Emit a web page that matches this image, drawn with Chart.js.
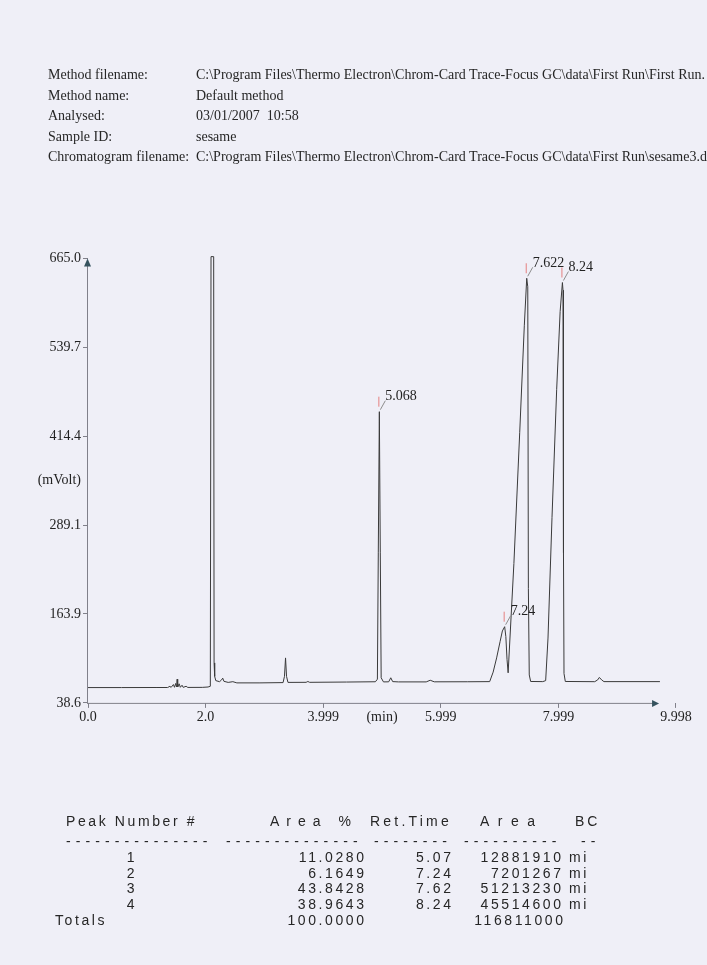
<!DOCTYPE html>
<html><head><meta charset="utf-8">
<script src="https://cdn.jsdelivr.net/npm/chart.js@4.4.1/dist/chart.umd.min.js"></script>
<style>
html,body{margin:0;padding:0;}
body{width:707px;height:965px;overflow:hidden;background:#efeff7;position:relative;font-family:"Liberation Serif","Times New Roman",serif;color:#222;}
#c{position:absolute;left:0;top:0;}
.h{position:absolute;font-size:14px;line-height:16px;white-space:nowrap;color:#262626;}
.t{position:absolute;font-family:"Liberation Sans Narrow","Liberation Sans",Arial,sans-serif;font-size:14px;line-height:16px;white-space:nowrap;color:#262626;letter-spacing:2.6px;}
</style></head><body>
<canvas id="c" width="707" height="965"></canvas>
<div id="hdr"></div><div id="tbl"></div>
<script>
// ---- data ----
const headerLabels = ["Method filename:", "Method name:", "Analysed:", "Sample ID:", "Chromatogram filename:"];
const headerValues = [
  "C:\\Program Files\\Thermo Electron\\Chrom-Card Trace-Focus GC\\data\\First Run\\First Run.",
  "Default method",
  "03/01/2007\u00a0\u00a010:58",
  "sesame",
  "C:\\Program Files\\Thermo Electron\\Chrom-Card Trace-Focus GC\\data\\First Run\\sesame3.d"
];
// retention time (min) as read against the printed time axis, and detector signal (mVolt)
const times = [0,0.568,1.157,1.354,1.393,1.413,1.452,1.471,1.491,1.506,1.516,1.525,1.550,1.570,1.599,1.619,1.668,1.697,1.943,2.041,2.080,2.092,2.137,2.144,2.154,2.173,2.237,2.271,2.291,2.311,2.384,2.463,2.531,2.924,3.317,3.341,3.359,3.376,3.400,3.709,3.739,3.768,4.396,4.887,4.921,4.936,4.954,4.970,4.985,5.024,5.113,5.148,5.181,5.280,5.751,5.819,5.888,6.457,6.830,6.889,6.948,7.007,7.046,7.085,7.105,7.125,7.144,7.242,7.341,7.419,7.460,7.478,7.488,7.503,7.527,7.733,7.782,7.822,7.890,7.969,8.028,8.067,8.077,8.085,8.094,8.116,8.616,8.666,8.695,8.734,8.773,9.725];
const signal = [60.2,60.2,60.3,60.3,62,60.4,64.5,60.6,66,61,72,61,65.5,60.6,63.5,60.5,62,60.4,60.5,61,62,667.5,667.5,95,76,70,68.5,71,73.5,69,67.5,68.5,66.8,66.8,67.2,76,102,76,67.5,67.6,68.8,67.6,68,68.4,72,250,449,250,74,68.2,68.3,74,68.6,68.2,68.2,70.5,68.3,68.4,68.6,82,102,125,140,146,132,100,81,235,420,570,637,625,200,78,68.8,68.6,70,130,300,480,590,631,620,250,80,68.8,68.5,71,74.5,71,68.6,68.6];
const peakTimes = [4.954, 7.085, 7.460, 8.067];
const peakHeights = [449, 146, 637, 631];
const peakLabels = ["5.068", "7.24", "7.622", "8.24"];
const xTickValues = [0, 2.0, 3.999, 4.999, 5.999, 7.999, 9.998];
const xTickLabels = ["0.0", "2.0", "3.999", "(min)", "5.999", "7.999", "9.998"];
const yTickValues = [38.6, 163.9, 289.1, 351.75, 414.4, 539.7, 665.0];
const yTickLabels = ["38.6", "163.9", "289.1", "(mVolt)", "414.4", "539.7", "665.0"];
const tablePeakNumbers = ["1", "2", "3", "4"];
const tableAreaPct = ["11.0280", "6.1649", "43.8428", "38.9643"];
const tableRetTime = ["5.07", "7.24", "7.62", "8.24"];
const tableArea = ["12881910", "7201267", "51213230", "45514600"];
const tableBC = ["mi", "mi", "mi", "mi"];
const totalAreaPct = "100.0000";
const totalArea = "116811000";

// ---- header ----
const hdr = document.getElementById('hdr');
headerLabels.forEach((l, i) => {
  const top = 67 + i * 20.5;
  const a = document.createElement('div'); a.className = 'h'; a.style.left = '48px'; a.style.top = top + 'px'; a.textContent = l; hdr.appendChild(a);
  const b = document.createElement('div'); b.className = 'h'; b.style.left = '196px'; b.style.top = top + 'px'; b.textContent = headerValues[i]; hdr.appendChild(b);
});

// ---- table ----
const tbl = document.getElementById('tbl');
function put(text, opts) {
  const d = document.createElement('div'); d.className = 't'; d.textContent = text;
  d.style.top = (opts.cy - 8) + 'px';
  const ls = opts.ls !== undefined ? opts.ls : 2.6;
  d.style.letterSpacing = ls + 'px';
  if (opts.left !== undefined) d.style.left = opts.left + 'px';
  if (opts.right !== undefined) d.style.right = (707 - opts.right - ls) + 'px';
  if (opts.center !== undefined) { d.style.left = opts.center + 'px'; d.style.transform = 'translateX(-50%)'; }
  tbl.appendChild(d);
}
put("Peak Number #", {cy: 821, left: 66});
put("Area %", {cy: 821, left: 270, ls: 7});
put("Ret.Time", {cy: 821, left: 370, ls: 3.2});
put("Area", {cy: 821, left: 480, ls: 8.5});
put("BC", {cy: 821, left: 575, ls: 3});
const dashGroups = [[66, 15], [226, 14], [374, 8], [464, 10], [581, 2]];
dashGroups.forEach(g => put("-".repeat(g[1]), {cy: 841, left: g[0], ls: 5.1}));
tablePeakNumbers.forEach((n, i) => {
  const cy = 857 + i * 15.6;
  put(n, {cy, center: 132});
  put(tableAreaPct[i], {cy, right: 364});
  put(tableRetTime[i], {cy, right: 451});
  put(tableArea[i], {cy, right: 561});
  put(tableBC[i], {cy, left: 569});
});
put("Totals", {cy: 919.5, left: 55});
put(totalAreaPct, {cy: 919.5, right: 364});
put(totalArea, {cy: 919.5, right: 563});

// ---- chart ----
const axisEnd = 9.71;
const overlay = {
  id: 'overlay',
  afterDatasetsDraw(chart) {
    const {ctx, scales: {x, y}} = chart;
    const x0 = x.getPixelForValue(0), yb = y.getPixelForValue(yTickValues[0]), yt = y.getPixelForValue(yTickValues[yTickValues.length - 1]);
    const xe = x.getPixelForValue(axisEnd);
    ctx.save();
    ctx.strokeStyle = '#80808a'; ctx.lineWidth = 1;
    ctx.beginPath(); ctx.moveTo(x0 - 0.5, yb); ctx.lineTo(x0 - 0.5, yt + 4); ctx.stroke();
    ctx.beginPath(); ctx.moveTo(x0 - 1, yb + 0.5); ctx.lineTo(xe - 4, yb + 0.5); ctx.stroke();
    ctx.fillStyle = '#35525e';
    ctx.beginPath(); ctx.moveTo(x0 - 0.5, yt); ctx.lineTo(x0 - 4, yt + 8); ctx.lineTo(x0 + 3, yt + 8); ctx.closePath(); ctx.fill();
    ctx.beginPath(); ctx.moveTo(xe, yb + 0.5); ctx.lineTo(xe - 7, yb - 3); ctx.lineTo(xe - 7, yb + 4); ctx.closePath(); ctx.fill();
    ctx.font = '14px "Liberation Serif"'; ctx.textBaseline = 'middle'; ctx.textAlign = 'left';
    peakTimes.forEach((t, i) => {
      const px = x.getPixelForValue(t), py = y.getPixelForValue(peakHeights[i]);
      ctx.strokeStyle = '#e58080';
      ctx.beginPath(); ctx.moveTo(px - 0.5, py - 5); ctx.lineTo(px - 0.5, py - 15); ctx.stroke();
      ctx.strokeStyle = '#8c8c8c';
      ctx.beginPath(); ctx.moveTo(px + 1, py - 2); ctx.lineTo(px + 6, py - 11); ctx.stroke();
      ctx.fillStyle = '#222';
      ctx.fillText(peakLabels[i], px + 6, py - 15);
    });
    ctx.restore();
  }
};

const tickFont = {family: '"Liberation Serif", "Times New Roman", serif', size: 14};
new Chart(document.getElementById('c'), {
  type: 'line',
  data: {
    datasets: [{
      data: times.map((t, i) => ({x: t, y: signal[i]})),
      borderColor: '#3a3a3a', borderWidth: 1, pointRadius: 0, tension: 0, fill: false, clip: false
    }]
  },
  options: {
    responsive: false, animation: false, devicePixelRatio: 1,
    layout: {padding: {left: 0, top: 258.4, right: 30.9, bottom: 232.1}},
    plugins: {legend: {display: false}, tooltip: {enabled: false}},
    scales: {
      x: {
        type: 'linear', min: 0, max: 10,
        afterBuildTicks: s => { s.ticks = xTickValues.map(v => ({value: v})); },
        afterFit: s => { s.height = 30; },
        ticks: {callback: (v, i) => xTickLabels[i], font: tickFont, color: '#222', padding: 1, maxRotation: 0, autoSkip: false},
        grid: {drawOnChartArea: false, drawTicks: true, tickLength: 5,
               color: c => (xTickLabels[c.index] === '(min)') ? 'rgba(0,0,0,0)' : '#80808a'},
        border: {display: false}
      },
      y: {
        type: 'linear', min: 38.6, max: 665,
        afterBuildTicks: s => { s.ticks = yTickValues.map(v => ({value: v})); },
        afterFit: s => { s.width = 88; },
        ticks: {callback: (v, i) => yTickLabels[i], font: tickFont, color: '#222', padding: 2, autoSkip: false},
        grid: {drawOnChartArea: false, drawTicks: true, tickLength: 5,
               color: c => (yTickLabels[c.index] === '(mVolt)') ? 'rgba(0,0,0,0)' : '#80808a'},
        border: {display: false}
      }
    }
  },
  plugins: [overlay]
});
</script>
</body></html>
